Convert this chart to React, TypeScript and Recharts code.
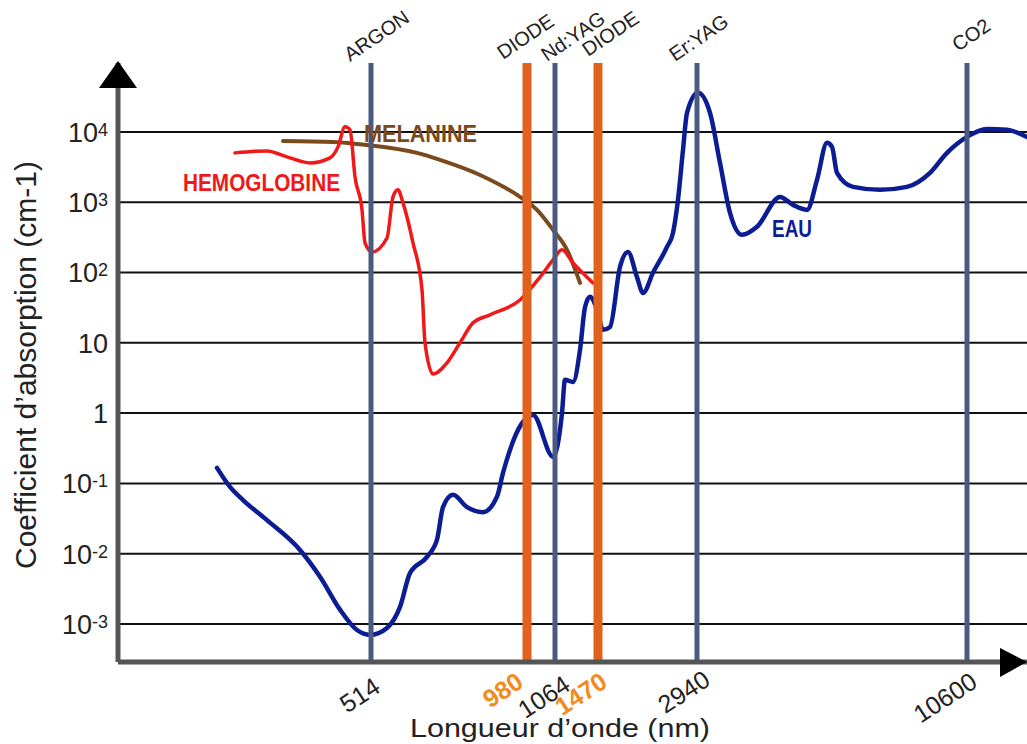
import { LineChart, Line, XAxis, YAxis, ReferenceLine, ReferenceDot } from 'recharts'

const W = 1027
const H = 744
const TOP = 63
const BOTTOM = 662
const LEFT = 118

// position along the schematic wavelength axis (the picture's axis is not linear in nm)
const laserPos = [253, 409, 437, 480, 579, 849]
const laserName = ['ARGON', 'DIODE', 'Nd:YAG', 'DIODE', 'Er:YAG', 'CO2']
const laserNm = ['514', '980', '1064', '1470', '2940', '10600']
const laserDiode = [false, true, false, true, false, false]

const yTicks = [0.001, 0.01, 0.1, 1, 10, 100, 1000, 10000]

// EAU (water)
const eauX = [99, 112, 125, 149, 182, 202, 222, 239, 252, 269, 282, 292, 309, 319, 325, 335, 349, 365, 379, 385,
  404, 415, 435, 444, 447, 455, 462, 467, 472, 479, 485, 492, 502, 510, 519, 525, 535, 549, 555, 560,
  565, 569, 580, 592, 602, 612, 624, 639, 662, 675, 689, 699, 709, 714, 719, 735, 762, 789, 812, 829,
  849, 869, 889, 909]
const eauY = [0.166, 0.089, 0.058, 0.03, 0.0113, 0.0047, 0.0016, 0.00082, 0.0007, 0.00088, 0.00175, 0.0053, 0.009, 0.0158, 0.046, 0.069, 0.046, 0.039, 0.065, 0.141,
  0.72, 0.94, 0.24, 1.0, 2.97, 2.78, 7.9, 32, 45, 29.5, 15.3, 16.8, 120, 196, 86, 51, 99, 231, 366, 1080,
  5550, 18600, 35900, 18600, 3620, 705, 343, 446, 1190, 916, 777, 2080, 6980, 6120, 2610, 1650, 1500, 1650, 2610, 5030,
  8490, 11000, 10700, 8490]

// HEMOGLOBINE
const hemoX = [117, 149, 169, 192, 212, 220, 227, 232, 237, 244, 247, 254, 269, 275, 280, 285, 295, 304, 307, 315,
  329, 342, 355, 372, 402, 422, 435, 444, 455, 475]
const hemoY = [5030, 5370, 4410, 3620, 4270, 6120, 11800, 10700, 2290, 777, 264, 196, 310, 1190, 1500, 977, 264, 56.6, 10, 3.6,
  5.2, 10, 19.2, 25, 40.7, 86, 151, 210, 137, 71]

// MELANINE
const melX = [165, 215, 249, 299, 322, 362, 402, 419, 435, 449, 462]
const melY = [7450, 7210, 6530, 5030, 4000, 2440, 1190, 777, 404, 210, 71]

const curveName = ['EAU', 'HEMOGLOBINE', 'MELANINE']
const curveLabelX = [654, 65, 246]
const curveLabelY = [321, 1450, 7210]

// styles
const BLUE = '#0c1c93'
const RED = '#f01818'
const BROWN = '#7a4a1d'
const LASER = '#4a5a80'
const DIODE = '#e1621d'
const DIODE_TEXT = '#f08c1e'
const AXIS = '#555555'
const TEXT = '#222222'
const FONT = '"Liberation Sans", Arial, sans-serif'
const curveColor = [BLUE, RED, BROWN]
const curveLabelWidth = [40, 157, 113]
const nameDx = [-21, -24, -8, -10, -22, -9]
const nameDy = [-1, -3, -1, -6, -1, -11]
const nmDx = [11, -2, 17, 11, 15, 12]
const nmDy = [29, 24, 27, 24, 22, 24]

const toPts = (xs: number[], ys: number[]) => xs.map((x, i) => ({ x, y: ys[i] }))
const eau = toPts(eauX, eauY)
const hemo = toPts(hemoX, hemoY)
const mel = toPts(melX, melY)

function YTick({ y, payload }: any) {
  const e = Math.round(Math.log10(payload.value))
  if (e === 0 || e === 1)
    return <text x={108} y={y + 10} textAnchor="end" fontSize={27} fill={TEXT} fontFamily={FONT}>{e === 0 ? '1' : '10'}</text>
  return (
    <text x={108} y={y + 10} textAnchor="end" fontSize={27} fill={TEXT} fontFamily={FONT}>
      <tspan>10</tspan>
      <tspan fontSize={18} dy={-6}>{String(e)}</tspan>
    </text>
  )
}

function XTick({ x, payload }: any) {
  const i = laserPos.indexOf(payload.value)
  if (i < 0) return null
  const diode = laserDiode[i]
  return (
    <text
      transform={`translate(${x + nmDx[i]},${BOTTOM + nmDy[i]}) rotate(-33)`}
      textAnchor="end"
      fontSize={25}
      fontWeight={diode ? 700 : 400}
      fill={diode ? DIODE_TEXT : TEXT}
      fontFamily={FONT}
    >
      {laserNm[i]}
    </text>
  )
}

function LaserLabel({ viewBox, i }: any) {
  if (!viewBox) return null
  return (
    <text
      transform={`translate(${viewBox.x + nameDx[i]},${TOP + nameDy[i]}) rotate(-34)`}
      fontSize={20}
      fill={TEXT}
      fontFamily={FONT}
    >
      {laserName[i]}
    </text>
  )
}

function YDecor() {
  return (
    <g>
      <polygon points={`${LEFT},61 ${LEFT - 19},88 ${LEFT + 19},88`} fill="#000" />
      <text transform="translate(36,365) rotate(-90)" textAnchor="middle" fontSize={30} fill={TEXT} fontFamily={FONT}>
        Coefficient d’absorption (cm-1)
      </text>
    </g>
  )
}

function XDecor() {
  return (
    <g>
      <polygon points={`1000,648 1027,662 1000,677`} fill="#000" />
      <text
        x={410}
        y={737}
        fontSize={25}
        fill={TEXT}
        fontFamily={FONT}
        textLength={300}
        lengthAdjust="spacingAndGlyphs"
      >
        Longueur d’onde (nm)
      </text>
    </g>
  )
}

export default function App() {
  return (
    <div style={{ position: 'absolute', left: 0, top: 0, width: W, height: H, background: '#fff' }}>
      <LineChart width={W} height={H} margin={{ top: TOP, right: 0, bottom: 0, left: 0 }}>
        <XAxis
          type="number"
          dataKey="x"
          domain={[0, 909]}
          ticks={laserPos}
          tick={<XTick />}
          tickLine={false}
          axisLine={{ stroke: AXIS, strokeWidth: 5 }}
          height={H - BOTTOM}
          allowDataOverflow
          interval={0}
          label={<XDecor />}
        />
        <YAxis
          type="number"
          scale="log"
          domain={[0.000288, 95500]}
          ticks={yTicks}
          tick={<YTick />}
          tickLine={false}
          axisLine={{ stroke: AXIS, strokeWidth: 5 }}
          width={LEFT}
          allowDataOverflow
          interval={0}
          label={<YDecor />}
        />
        {yTicks.map(t => (
          <ReferenceLine key={t} y={t} stroke="#111" strokeWidth={2} />
        ))}
        <Line data={mel} dataKey="y" type="monotone" stroke={BROWN} strokeWidth={4} dot={false} isAnimationActive={false} strokeLinecap="round" />
        <Line data={hemo} dataKey="y" type="monotone" stroke={RED} strokeWidth={3.5} dot={false} isAnimationActive={false} strokeLinecap="round" />
        <Line data={eau} dataKey="y" type="monotone" stroke={BLUE} strokeWidth={4.5} dot={false} isAnimationActive={false} strokeLinecap="round" />
        {curveName.map((n, i) => (
          <ReferenceDot
            key={n}
            x={curveLabelX[i]}
            y={curveLabelY[i]}
            r={0}
            shape={(p: any) => (
              <text
                x={p.cx}
                y={p.cy}
                fontSize={24}
                fontWeight={700}
                fill={curveColor[i]}
                fontFamily={FONT}
                textLength={curveLabelWidth[i]}
                lengthAdjust="spacingAndGlyphs"
              >
                {n}
              </text>
            )}
          />
        ))}
        {laserPos.map((p, i) => (
          <ReferenceLine
            key={i}
            x={p}
            stroke={laserDiode[i] ? DIODE : LASER}
            strokeWidth={laserDiode[i] ? 9 : 5}
            label={<LaserLabel i={i} />}
          />
        ))}
      </LineChart>
    </div>
  )
}
